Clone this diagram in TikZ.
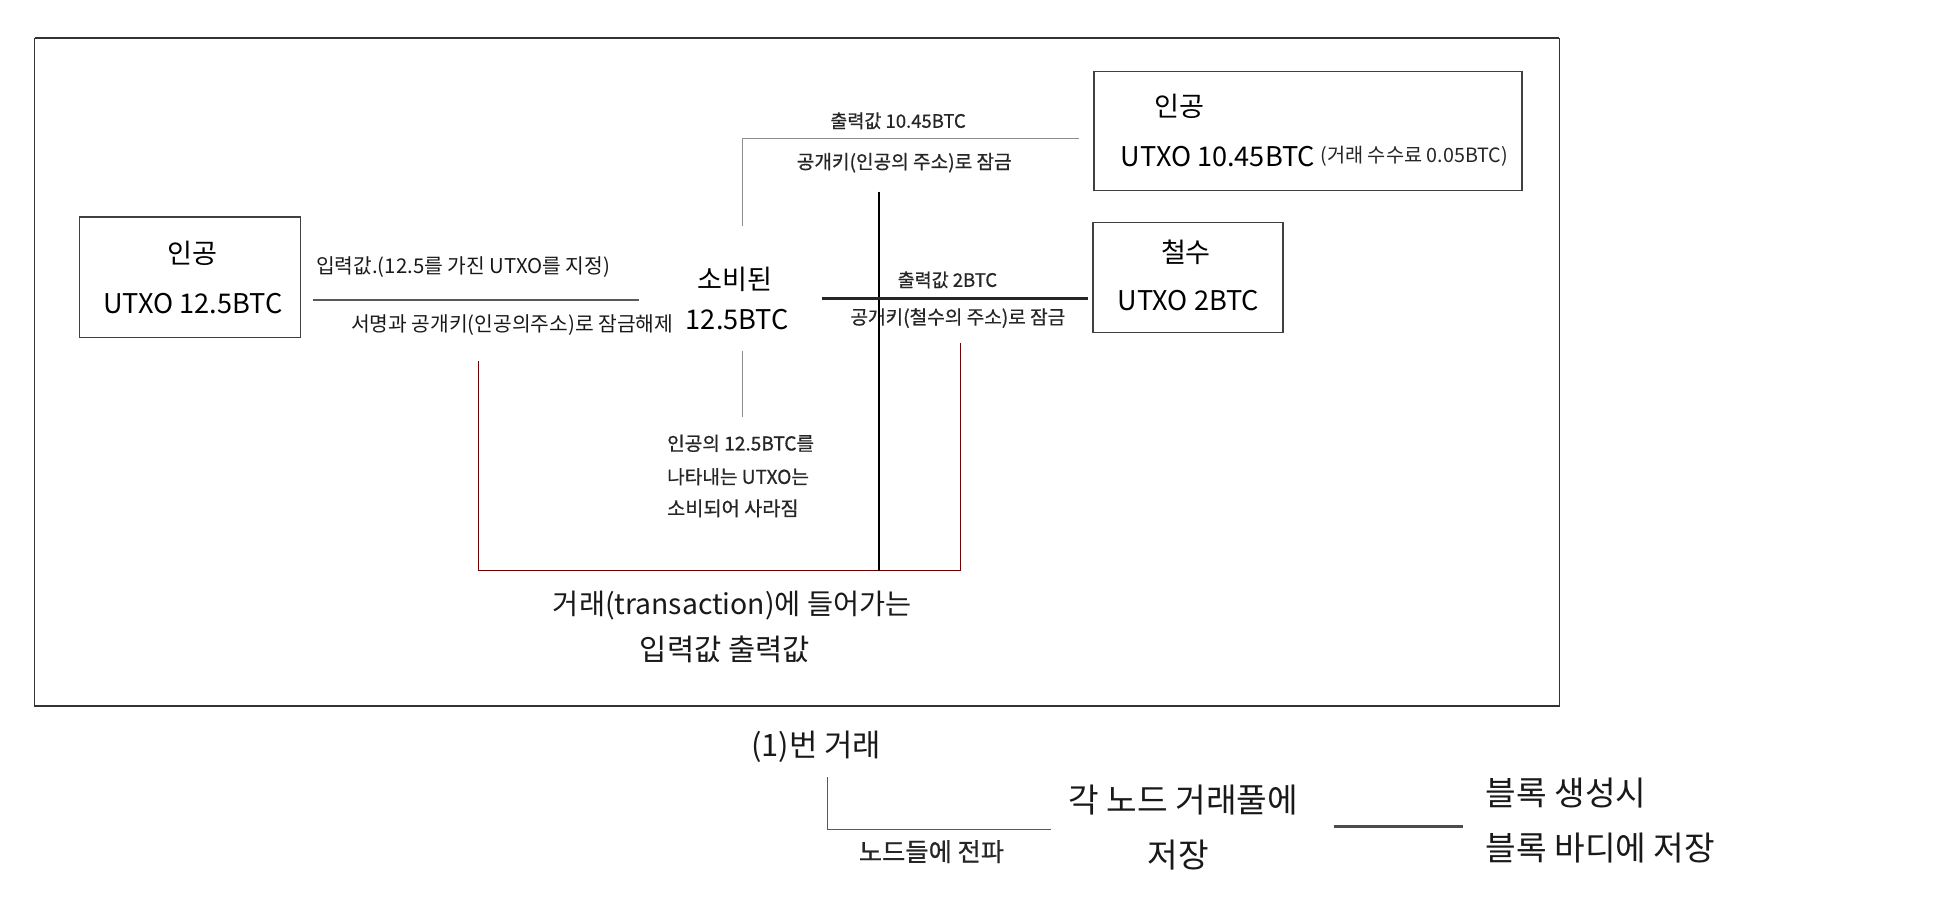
\documentclass[tikz,border=0pt]{standalone}
\usepackage{fontspec}
\setmainfont{Noto Sans CJK KR}
\newfontfamily\semib[FakeBold=0.7]{Noto Sans CJK KR}
\newcommand{\fsz}[1]{\fontsize{#1}{#1}\selectfont}
\begin{document}
\begin{tikzpicture}[x=1pt,y=-1pt,
  big/.style={font=\fsz{22},text=black,inner sep=0pt},
  lab/.style={font=\fsz{16},text=black!90,inner sep=0pt},
  slab/.style={font=\semib\fsz{15.5},text=black!85,inner sep=0pt},
  mid/.style={font=\fsz{23},text=black!90,inner sep=0pt},
  low/.style={font=\fsz{27},text=black!90,inner sep=0pt},
  boxs/.style={draw=black!75,line width=1.1pt,inner sep=0pt},
  thinl/.style={draw=black!45,line width=0.8pt},
  redl/.style={draw=red!45!black,line width=0.9pt},
  thickl/.style={draw=black!85,line width=2.2pt}]
\useasboundingbox (0,0) rectangle (1568,736.5);
\fill[white] (0,0) rectangle (1568,736.5);
% frame
\draw[draw=black!80,line width=1pt] (28.2,31) rectangle (1265,572.7);
\draw[draw=black!80,line width=2pt] (28.2,31) -- (1265,31);
% boxes
\node[boxs,minimum width=179pt,minimum height=97.6pt] (lbox) at (154,224.8) {};
\node[boxs,minimum width=347pt,minimum height=96.7pt] (obox) at (1061,106.3) {};
\node[boxs,minimum width=154pt,minimum height=89.2pt] (cbox) at (963.7,225.2) {};
% box texts
\node[big] (l1) at (156,205.5) {인공};
\node[big] (l2) at (156.5,246) {UTXO 12.5BTC};
\node[big] (o1) at (957,86.5) {인공};
\node[big,anchor=west] (o2) at (909,127) {UTXO 10.45BTC};
\node[font=\fsz{16},text=black!85,inner sep=0pt,anchor=west] (o3) at (1071,127) {(거래 수수료 0.05BTC)};
\node[big] (c1) at (962,205) {철수};
\node[big] (c2) at (964,244) {UTXO 2BTC};
% spent
\node[big] (s1) at (596,227) {소비된};
\node[big] (s2) at (598,259.6) {12.5BTC};
% labels
\node[lab,font=\fsz{16.5}] (i1) at (375.6,216.3) {입력값.(12.5를 가진 UTXO를 지정)};
\node[lab,font=\fsz{16.5}] (i2) at (415.5,263.6) {서명과 공개키(인공의주소)로 잠금해제};
\node[slab,font=\semib\fsz{15}] (t1) at (728.5,98) {출력값 10.45BTC};
\node[slab] (t2) at (733.5,132) {공개키(인공의 주소)로 잠금};
\node[slab,font=\semib\fsz{15}] (u1) at (768.5,227) {출력값 2BTC};
\node[slab] (u2) at (777,258) {공개키(철수의 주소)로 잠금};
\node[slab,anchor=west] (d1) at (541,359.6) {인공의 12.5BTC를};
\node[slab,anchor=west] (d2) at (541,386.7) {나타내는 UTXO는};
\node[slab,anchor=west,font=\semib\fsz{16}] (d3) at (541,412.3) {소비되어 사라짐};
\node[mid] (x1) at (594,491.6) {거래(transaction)에 들어가는};
\node[mid,font=\fsz{24}] (x2) at (588,527) {입력값 출력값};
% below
\node[low,font=\fsz{25}] (b1) at (662,605.7) {(1)번 거래};
\node[slab,font=\semib\fsz{20.5}] (b2) at (755.6,690.8) {노드들에 전파};
\node[low] (b3) at (960,649) {각 노드 거래풀에};
\node[low] (b4) at (956,693.5) {저장};
\node[low,anchor=west] (b5) at (1205,643.5) {블록 생성시};
\node[low,anchor=west] (b6) at (1205,688) {블록 바디에 저장};
% connector coordinates
\coordinate (in1) at (253.5,243.4);
\coordinate (in2) at (518.5,243.4);
\coordinate (tp0) at (602,183);
\coordinate (tp1) at (875,112);
\coordinate (th0) at (667,242);
\coordinate (th1) at (882.6,242);
\coordinate (tb0) at (713,155.5);
\coordinate (tb1) at (713,463);
\coordinate (gv0) at (602,285);
\coordinate (gv1) at (602,338.5);
\coordinate (r0) at (388,293);
\coordinate (r1) at (779,463);
\coordinate (r2) at (779,278);
\coordinate (bb0) at (671.4,630.5);
\coordinate (bb1) at (852.4,672.7);
\coordinate (bt0) at (1081.7,670.6);
\coordinate (bt1) at (1186.8,670.6);
% connectors
\draw[draw=black!65,line width=1pt] (in1) -- (in2);
\draw[thinl] (tp0) |- (tp1);
\draw[thinl] (gv0) -- (gv1);
\draw[redl] (r0) |- (r1) -- (r2);
\draw[draw=black,line width=1.3pt] (tb0) -- (tb1);
\draw[thickl] (th0) -- (th1);
\draw[draw=black!65,line width=0.9pt] (bb0) |- (bb1);
\draw[thickl,draw=black!70] (bt0) -- (bt1);
\end{tikzpicture}
\end{document}
